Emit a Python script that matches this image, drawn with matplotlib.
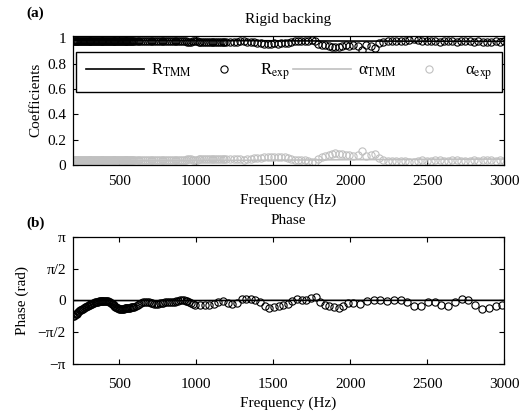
import numpy as np
import matplotlib
matplotlib.use("Agg")
import matplotlib.pyplot as plt

plt.rcParams["font.family"] = ["Liberation Serif", "DejaVu Serif"]
plt.rcParams["mathtext.fontset"] = "stix"
plt.rcParams["font.size"] = 11
plt.rcParams["axes.linewidth"] = 0.9

# ---- (a) reflection / absorption, rigid backing ----
freq_a = [
    200, 206, 212, 218, 224, 230, 236, 242, 248, 254, 260, 266,
    272, 278, 284, 290, 296, 302, 308, 314, 320, 326, 332, 338,
    344, 350, 356, 362, 368, 374, 380, 386, 392, 398, 404, 410,
    416, 422, 428, 434, 440, 446, 452, 458, 464, 470, 476, 482,
    488, 494, 500, 506, 512, 518, 524, 530, 536, 542, 548, 554,
    560, 566, 572, 578, 584, 590, 596,
    608, 620, 632, 644, 656, 668, 680, 692, 704, 716, 728, 740,
    752, 764, 776, 788, 800, 812, 824, 836, 848, 860, 872, 884,
    896, 908, 920, 932, 944, 956, 968, 980, 992, 1004, 1016, 1028,
    1040, 1052, 1064, 1076, 1088, 1100, 1112, 1124, 1136, 1148, 1160, 1172,
    1184, 1196,
    1222, 1244, 1266, 1288, 1310, 1332, 1354, 1376, 1398, 1420, 1442, 1464,
    1486, 1508, 1530, 1552, 1574, 1596, 1618, 1640, 1662, 1684, 1706, 1728,
    1750, 1772, 1794, 1816, 1838, 1860, 1882, 1904, 1926, 1948, 1970, 1992,
    2020, 2048, 2076, 2104, 2132, 2160, 2188, 2216, 2244, 2272, 2300, 2328,
    2356, 2384, 2412, 2440, 2468, 2496, 2524, 2552, 2580, 2608, 2636, 2664,
    2692, 2720, 2748, 2776, 2804, 2832, 2860, 2888, 2916, 2944, 2972, 3000,
]

r_exp = [
    0.978, 0.978, 0.977, 0.977, 0.977, 0.976, 0.976, 0.976, 0.977, 0.977, 0.977, 0.978,
    0.978, 0.978, 0.977, 0.977, 0.976, 0.976, 0.976, 0.976, 0.977, 0.977, 0.978, 0.978,
    0.978, 0.977, 0.977, 0.976, 0.976, 0.976, 0.976, 0.976, 0.977, 0.977, 0.977, 0.977,
    0.977, 0.976, 0.976, 0.976, 0.976, 0.976, 0.977, 0.977, 0.977, 0.977, 0.976, 0.976,
    0.976, 0.976, 0.977, 0.977, 0.977, 0.977, 0.977, 0.976, 0.976, 0.976, 0.976, 0.977,
    0.977, 0.977, 0.977, 0.976, 0.976, 0.976, 0.976,
    0.976, 0.976, 0.977, 0.977, 0.976, 0.976, 0.975, 0.975, 0.976, 0.976, 0.977, 0.977,
    0.977, 0.976, 0.976, 0.975, 0.975, 0.975, 0.976, 0.976, 0.976, 0.975, 0.975, 0.975,
    0.976, 0.976, 0.975, 0.975, 0.974, 0.974, 0.974, 0.975, 0.975, 0.975, 0.974, 0.974,
    0.973, 0.973, 0.973, 0.974, 0.974, 0.974, 0.973, 0.973, 0.972, 0.972, 0.972, 0.973,
    0.973, 0.973,
    0.973, 0.972, 0.973, 0.975, 0.976, 0.974, 0.970, 0.968, 0.966, 0.962, 0.958, 0.957,
    0.958, 0.959, 0.958, 0.960, 0.962, 0.966, 0.972, 0.978, 0.982, 0.980, 0.979, 0.982,
    0.985, 0.975, 0.958, 0.950, 0.945, 0.935, 0.930, 0.928, 0.930, 0.935, 0.945, 0.940,
    0.948, 0.935, 0.905, 0.945, 0.940, 0.925, 0.960, 0.972, 0.976, 0.977, 0.976, 0.977,
    0.978, 0.990, 0.998, 0.985, 0.975, 0.976, 0.977, 0.975, 0.974, 0.975, 0.976, 0.975,
    0.974, 0.975, 0.976, 0.975, 0.974, 0.975, 0.974, 0.973, 0.974, 0.975, 0.974, 0.975,
]

alpha_exp = [
    0.040, 0.040, 0.041, 0.041, 0.041, 0.042, 0.042, 0.042, 0.041, 0.041, 0.041, 0.040,
    0.040, 0.040, 0.041, 0.041, 0.042, 0.042, 0.042, 0.042, 0.041, 0.041, 0.040, 0.040,
    0.040, 0.041, 0.041, 0.042, 0.042, 0.042, 0.042, 0.042, 0.041, 0.041, 0.041, 0.041,
    0.041, 0.042, 0.042, 0.042, 0.042, 0.042, 0.041, 0.041, 0.041, 0.041, 0.042, 0.042,
    0.042, 0.042, 0.041, 0.041, 0.041, 0.041, 0.041, 0.042, 0.042, 0.042, 0.042, 0.041,
    0.041, 0.041, 0.041, 0.042, 0.042, 0.042, 0.042,
    0.042, 0.042, 0.041, 0.041, 0.042, 0.042, 0.043, 0.043, 0.042, 0.042, 0.041, 0.041,
    0.041, 0.042, 0.042, 0.043, 0.043, 0.043, 0.042, 0.042, 0.042, 0.043, 0.043, 0.043,
    0.042, 0.042, 0.043, 0.043, 0.044, 0.044, 0.044, 0.043, 0.043, 0.043, 0.044, 0.044,
    0.045, 0.045, 0.045, 0.044, 0.044, 0.044, 0.045, 0.045, 0.046, 0.046, 0.046, 0.045,
    0.045, 0.045,
    0.045, 0.046, 0.045, 0.044, 0.043, 0.046, 0.050, 0.052, 0.055, 0.058, 0.062, 0.066,
    0.065, 0.064, 0.065, 0.063, 0.060, 0.055, 0.048, 0.043, 0.040, 0.042, 0.043, 0.035,
    0.025, 0.020, 0.048, 0.062, 0.070, 0.080, 0.088, 0.092, 0.090, 0.088, 0.078, 0.075,
    0.070, 0.082, 0.110, 0.072, 0.078, 0.090, 0.055, 0.038, 0.034, 0.033, 0.035, 0.034,
    0.033, 0.026, 0.022, 0.028, 0.036, 0.035, 0.034, 0.036, 0.037, 0.035, 0.034, 0.036,
    0.037, 0.035, 0.034, 0.035, 0.036, 0.035, 0.036, 0.037, 0.036, 0.035, 0.036, 0.035,
]

freq_tmm = [200, 500, 1000, 1500, 2000, 2500, 3000]
r_tmm = [0.985, 0.984, 0.982, 0.980, 0.978, 0.977, 0.976]
alpha_tmm = [0.030, 0.032, 0.035, 0.038, 0.042, 0.045, 0.047]

# ---- (b) reflection phase ----
freq_b = [
    200, 206, 212, 218, 224, 230, 236, 242, 248, 254, 260, 266,
    272, 278, 284, 290, 296, 302, 308, 314, 320, 326, 332, 338,
    344, 350, 356, 362, 368, 374, 380, 386, 392, 398, 404, 410,
    416, 422, 428, 434, 440, 446, 452, 458, 464, 470, 476, 482,
    488, 494, 500, 506, 512, 518, 524, 530, 536, 542, 548, 554,
    560, 566, 572, 578, 584, 590, 596,
    608, 620, 632, 644, 656, 668, 680, 692, 704, 716, 728, 740,
    752, 764, 776, 788, 800, 812, 824, 836, 848, 860, 872, 884,
    896, 908, 920, 932, 944, 956, 968, 980, 992,
    1025, 1055, 1085, 1115, 1145, 1175, 1205, 1235, 1265, 1295, 1325, 1355,
    1385, 1415, 1445, 1475, 1505, 1535, 1565, 1595, 1625, 1655, 1685, 1715,
    1745, 1775, 1805, 1835, 1865, 1895, 1925, 1955, 1985,
    2020, 2064, 2108, 2152, 2196, 2240, 2284, 2328, 2372, 2416, 2460, 2504,
    2548, 2592, 2636, 2680, 2724, 2768, 2812, 2856, 2900, 2944, 2988,
]
phase_exp = [
    -0.78, -0.75, -0.72, -0.68, -0.65, -0.61, -0.57, -0.54, -0.50, -0.47, -0.45, -0.41,
    -0.38, -0.34, -0.31, -0.28, -0.26, -0.24, -0.22, -0.20, -0.18, -0.16, -0.14, -0.12,
    -0.10, -0.08, -0.07, -0.06, -0.05, -0.04, -0.03, -0.02, -0.02, -0.01, -0.01, -0.01,
    -0.02, -0.03, -0.04, -0.06, -0.09, -0.12, -0.16, -0.20, -0.24, -0.28, -0.32, -0.35,
    -0.38, -0.40, -0.41, -0.42, -0.42, -0.42, -0.41, -0.41, -0.40, -0.40, -0.39, -0.38,
    -0.37, -0.37, -0.36, -0.35, -0.34, -0.33, -0.32,
    -0.29, -0.24, -0.18, -0.13, -0.10, -0.08, -0.08, -0.10, -0.13, -0.15, -0.17, -0.17,
    -0.16, -0.15, -0.13, -0.11, -0.09, -0.08, -0.09, -0.09, -0.08, -0.06, -0.04, -0.01,
    0.01, 0.02, 0.01, -0.01, -0.05, -0.10, -0.15, -0.19, -0.21,
    -0.22, -0.22, -0.21, -0.18, -0.08, -0.03, -0.12, -0.18, -0.12, 0.06, 0.08, 0.06,
    0.03, -0.10, -0.30, -0.36, -0.32, -0.27, -0.24, -0.18, -0.04, 0.05, 0.02, 0.01,
    0.14, 0.15, -0.10, -0.25, -0.30, -0.33, -0.36, -0.28, -0.13,
    -0.14, -0.19, -0.03, 0.02, 0.00, -0.01, 0.00, 0.01, -0.08, -0.28, -0.27, -0.08,
    -0.07, -0.25, -0.30, -0.10, 0.06, 0.04, -0.22, -0.42, -0.40, -0.26, -0.25,
]
phase_tmm = [-0.01, -0.01, -0.01, 0.0, 0.0, 0.0, 0.0]

xticks = [500, 1000, 1500, 2000, 2500, 3000]
phase_ticks = [-np.pi, -np.pi / 2, 0, np.pi / 2, np.pi]
phase_ticklabels = ["\u2212\u03c0", "\u2212\u03c0/2", "0", "\u03c0/2", "\u03c0"]

gray = "#c0c0c0"
mk = dict(marker="o", markersize=5.2, markerfacecolor="none", markeredgewidth=0.8,
          linestyle="none")

fig = plt.figure(figsize=(5.28, 4.13), dpi=100)
ax1 = fig.add_axes([0.138, 0.6005, 0.817, 0.313])
ax2 = fig.add_axes([0.138, 0.1186, 0.817, 0.3083])

for ax, xpad in ((ax1, 7), (ax2, 10)):
    ax.tick_params(direction="in", top=True, right=True, length=3.5, width=0.8,
                   labelsize=11)
    ax.tick_params(axis="x", pad=xpad)
    ax.tick_params(axis="y", pad=5)
    ax.set_xlim(200, 3000)
    ax.set_xticks(xticks)
    ax.set_xlabel("Frequency (Hz)", labelpad=4)

ax1.plot(freq_tmm, r_tmm, color="black", lw=1.2, label=r"R$_{\mathrm{TMM}}$")
ax1.plot(freq_a, r_exp, color="black", markeredgecolor="black",
         label=r"R$_{\mathrm{exp}}$", **mk)
ax1.plot(freq_tmm, alpha_tmm, color=gray, lw=1.2, label="\u03b1$_{\\mathrm{TMM}}$")
ax1.plot(freq_a, alpha_exp, color=gray, markeredgecolor=gray,
         label="\u03b1$_{\\mathrm{exp}}$", **mk)
ax1.set_ylim(0, 1.02)
ax1.set_yticks([0, 0.2, 0.4, 0.6, 0.8, 1])
ax1.set_yticklabels(["0", "0.2", "0.4", "0.6", "0.8", "1"])
ax1.set_ylabel("Coefficients", labelpad=3)
ax1.set_title("Rigid backing", fontsize=11, pad=9)
leg = ax1.legend(loc="upper left", bbox_to_anchor=(0.007, 0.565, 0.988, 0.31),
                 mode="expand", ncol=4, handlelength=3.5, handletextpad=0.4,
                 columnspacing=1.0, borderaxespad=0, fancybox=False,
                 edgecolor="black", framealpha=1, fontsize=12, borderpad=0.6)
leg.get_frame().set_linewidth(1.0)

ax2.plot(freq_tmm, phase_tmm, color="black", lw=1.2)
ax2.plot(freq_b, phase_exp, color="black", markeredgecolor="black", **mk)
ax2.set_ylim(-np.pi, np.pi)
ax2.set_yticks(phase_ticks)
ax2.set_yticklabels(phase_ticklabels)
ax2.set_ylabel("Phase (rad)", labelpad=6)
ax2.set_title("Phase", fontsize=11, pad=9)

fig.text(0.05, 0.968, "(a)", fontweight="bold", fontsize=11, ha="left", va="center")
fig.text(0.05, 0.46, "(b)", fontweight="bold", fontsize=11, ha="left", va="center")

fig.savefig("out.png", dpi=100)
